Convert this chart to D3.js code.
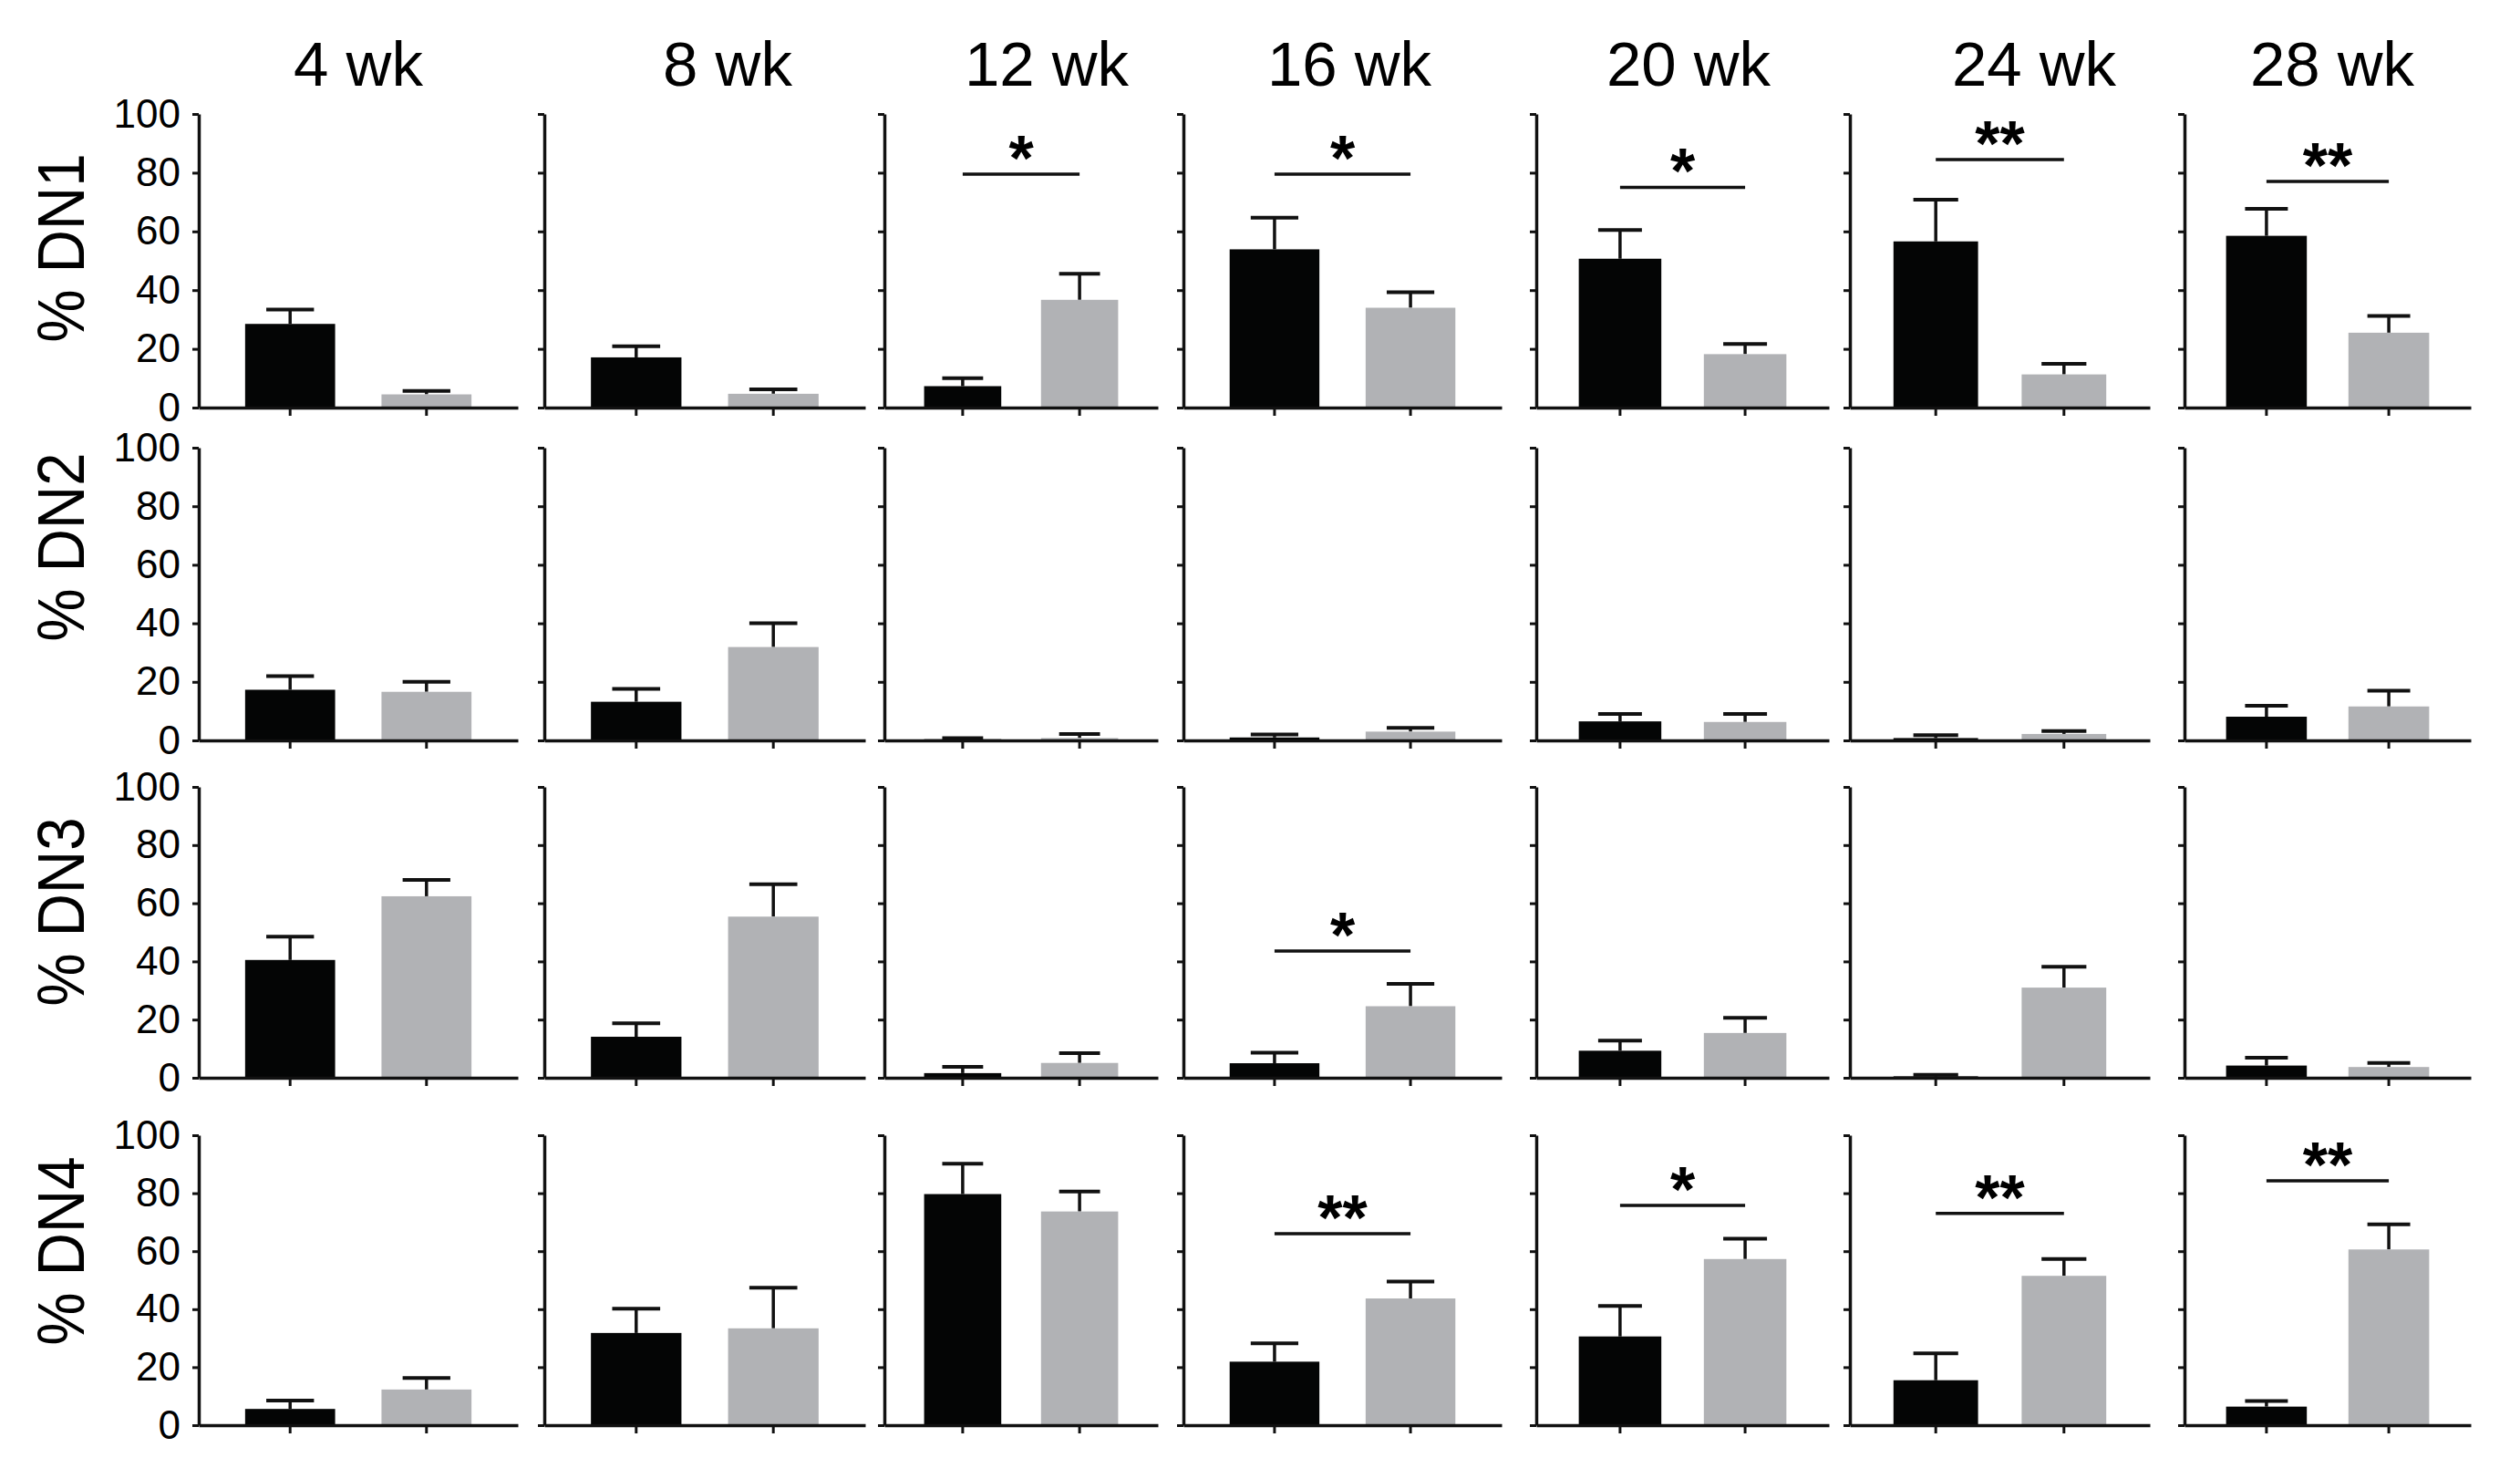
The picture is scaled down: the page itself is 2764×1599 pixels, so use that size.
<!DOCTYPE html>
<html>
<head>
<meta charset="utf-8">
<script src="https://cdn.jsdelivr.net/npm/d3@7"></script>
<style>
  body { margin: 0; background: #fff; }
  text { font-family: "Liberation Sans", Arial, sans-serif; fill: #000; }
</style>
</head>
<body>
<script>
// ---- data ----
var weeks = ["4 wk", "8 wk", "12 wk", "16 wk", "20 wk", "24 wk", "28 wk"];
var subsets = ["% DN1", "% DN2", "% DN3", "% DN4"];
var groups = ["black", "grey"];
var yTicks = [0, 20, 40, 60, 80, 100];

// means and SEM, rows = DN1..DN4, cols = weeks
var blackMean = [
  [28.5, 17.1, 7.3, 53.9, 50.7, 56.6, 58.5],
  [17.3, 13.2, 0.4, 1.0, 6.5, 0.8, 8.1],
  [40.5, 14.1, 1.6, 5.0, 9.3, 0.5, 4.2],
  [5.6, 31.8, 79.7, 21.9, 30.6, 15.5, 6.4]
];
var blackSem = [
  [4.9, 3.8, 2.7, 10.8, 9.8, 14.2, 9.2],
  [4.7, 4.4, 0.4, 1.0, 2.5, 1.0, 3.7],
  [8.0, 4.6, 2.2, 3.6, 3.5, 0.5, 2.7],
  [2.9, 8.4, 10.5, 6.3, 10.5, 9.3, 1.9]
];
var greyMean = [
  [4.5, 4.7, 36.7, 34.0, 18.2, 11.3, 25.5],
  [16.6, 31.9, 0.8, 3.0, 6.3, 2.2, 11.6],
  [62.4, 55.4, 5.1, 24.6, 15.4, 31.0, 3.7],
  [12.3, 33.4, 73.7, 43.7, 57.3, 51.5, 60.6]
];
var greySem = [
  [1.2, 1.5, 8.9, 5.3, 3.5, 3.6, 5.7],
  [3.4, 8.1, 1.4, 1.3, 2.7, 1.0, 5.4],
  [5.6, 11.1, 3.4, 7.7, 5.2, 7.2, 1.4],
  [4.0, 14.0, 6.9, 5.8, 7.0, 5.8, 8.7]
];

// significance brackets
var sigRow   = [0, 0, 0, 0, 0, 2, 3, 3, 3, 3];
var sigCol   = [2, 3, 4, 5, 6, 3, 3, 4, 5, 6];
var sigLevel = [79.5, 79.5, 75, 84.5, 77, 43.6, 66, 75.8, 73, 84.3];
var sigText  = ["*", "*", "*", "**", "**", "*", "**", "*", "**", "**"];

// ---- layout ----
var W = 2764, H = 1599;
var colStart = [218, 597, 970, 1298, 1685, 2029, 2396];
var colEnd   = [568, 949, 1270, 1647, 2006, 2358, 2710];
var rowTop   = [125, 491, 863, 1245];
var rowZero  = [447, 812, 1182, 1563];
var titleX   = [393, 798, 1148, 1480, 1852, 2231, 2558];
var labelY   = [272, 600, 1000, 1372];
var colors   = { black: "#040505", grey: "#b1b2b5" };

var svg = d3.select("body").append("svg")
    .attr("width", W)
    .attr("height", H);

svg.append("rect").attr("width", W).attr("height", H).attr("fill", "#fff");

// column titles
svg.selectAll("text.title")
    .data(weeks)
    .enter()
    .append("text")
    .attr("class", "title")
    .attr("x", function(d, i) { return titleX[i]; })
    .attr("y", 94)
    .attr("text-anchor", "middle")
    .style("font-size", "69px")
    .text(function(d) { return d; });

// row labels
svg.selectAll("text.rowlab")
    .data(subsets)
    .enter()
    .append("text")
    .attr("class", "rowlab")
    .attr("transform", function(d, i) { return "translate(92," + labelY[i] + ") rotate(-90)"; })
    .attr("text-anchor", "middle")
    .attr("textLength", 207)
    .attr("lengthAdjust", "spacingAndGlyphs")
    .style("font-size", "72px")
    .text(function(d) { return d; });

var scales = [];

subsets.forEach(function(sub, r) {
  scales[r] = [];
  weeks.forEach(function(wk, c) {
    var x = d3.scaleBand()
        .domain(groups)
        .range([colStart[c], colEnd[c]])
        .paddingInner(0.34)
        .paddingOuter(0.34);
    var y = d3.scaleLinear()
        .domain([0, 100])
        .range([rowZero[r], rowTop[r]]);
    scales[r][c] = { x: x, y: y };

    var rows = [
      { g: "black", mean: blackMean[r][c], sem: blackSem[r][c] },
      { g: "grey",  mean: greyMean[r][c],  sem: greySem[r][c] }
    ];

    var panel = svg.append("g").attr("class", "panel");
    var capW = x.bandwidth() * 0.53;

    // error bars (upper only)
    panel.selectAll("line.err")
        .data(rows)
        .enter()
        .append("line")
        .attr("class", "err")
        .attr("x1", function(d) { return x(d.g) + x.bandwidth() / 2; })
        .attr("x2", function(d) { return x(d.g) + x.bandwidth() / 2; })
        .attr("y1", function(d) { return y(d.mean); })
        .attr("y2", function(d) { return y(d.mean + d.sem); })
        .attr("stroke", "#111")
        .attr("stroke-width", 3.5);

    panel.selectAll("line.cap")
        .data(rows)
        .enter()
        .append("line")
        .attr("class", "cap")
        .attr("x1", function(d) { return x(d.g) + x.bandwidth() / 2 - capW / 2; })
        .attr("x2", function(d) { return x(d.g) + x.bandwidth() / 2 + capW / 2; })
        .attr("y1", function(d) { return y(d.mean + d.sem); })
        .attr("y2", function(d) { return y(d.mean + d.sem); })
        .attr("stroke", "#111")
        .attr("stroke-width", 4);

    panel.selectAll("rect.bar")
        .data(rows)
        .enter()
        .append("rect")
        .attr("class", "bar")
        .attr("x", function(d) { return x(d.g); })
        .attr("y", function(d) { return y(d.mean); })
        .attr("width", x.bandwidth())
        .attr("height", function(d) { return y(0) - y(d.mean); })
        .attr("fill", function(d) { return colors[d.g]; });

    // axes
    var yAxis = d3.axisLeft(y)
        .tickValues(yTicks)
        .tickSizeInner(7)
        .tickSizeOuter(0)
        .tickPadding(13);
    if (c > 0) yAxis.tickFormat("");

    var ya = panel.append("g")
        .attr("transform", "translate(" + colStart[c] + ",0)")
        .call(yAxis);

    var xa = panel.append("g")
        .attr("transform", "translate(0," + rowZero[r] + ")")
        .call(d3.axisBottom(x).tickSizeInner(9).tickSizeOuter(0).tickFormat(""));

    [ya, xa].forEach(function(a) {
      a.select(".domain").attr("stroke", "#111").attr("stroke-width", 3.5);
      a.selectAll(".tick line").attr("stroke", "#111").attr("stroke-width", 3);
    });
    ya.selectAll(".tick text")
        .style("font-size", "44px")
        .style("font-family", "'Liberation Sans', Arial, sans-serif")
        .attr("fill", "#000");
  });
});

// significance marks
sigRow.forEach(function(r, k) {
  var c = sigCol[k];
  var x = scales[r][c].x, y = scales[r][c].y;
  var x1 = x("black") + x.bandwidth() / 2;
  var x2 = x("grey") + x.bandwidth() / 2;
  var ly = y(sigLevel[k]);
  svg.append("line")
      .attr("x1", x1).attr("x2", x2)
      .attr("y1", ly).attr("y2", ly)
      .attr("stroke", "#111")
      .attr("stroke-width", 3.5);
  svg.append("text")
      .attr("x", (x1 + x2) / 2)
      .attr("y", ly - 32 + 0.555 * 70)
      .attr("text-anchor", "middle")
      .style("font-size", "70px")
      .style("font-weight", "bold")
      .text(sigText[k]);
});
</script>
</body>
</html>
